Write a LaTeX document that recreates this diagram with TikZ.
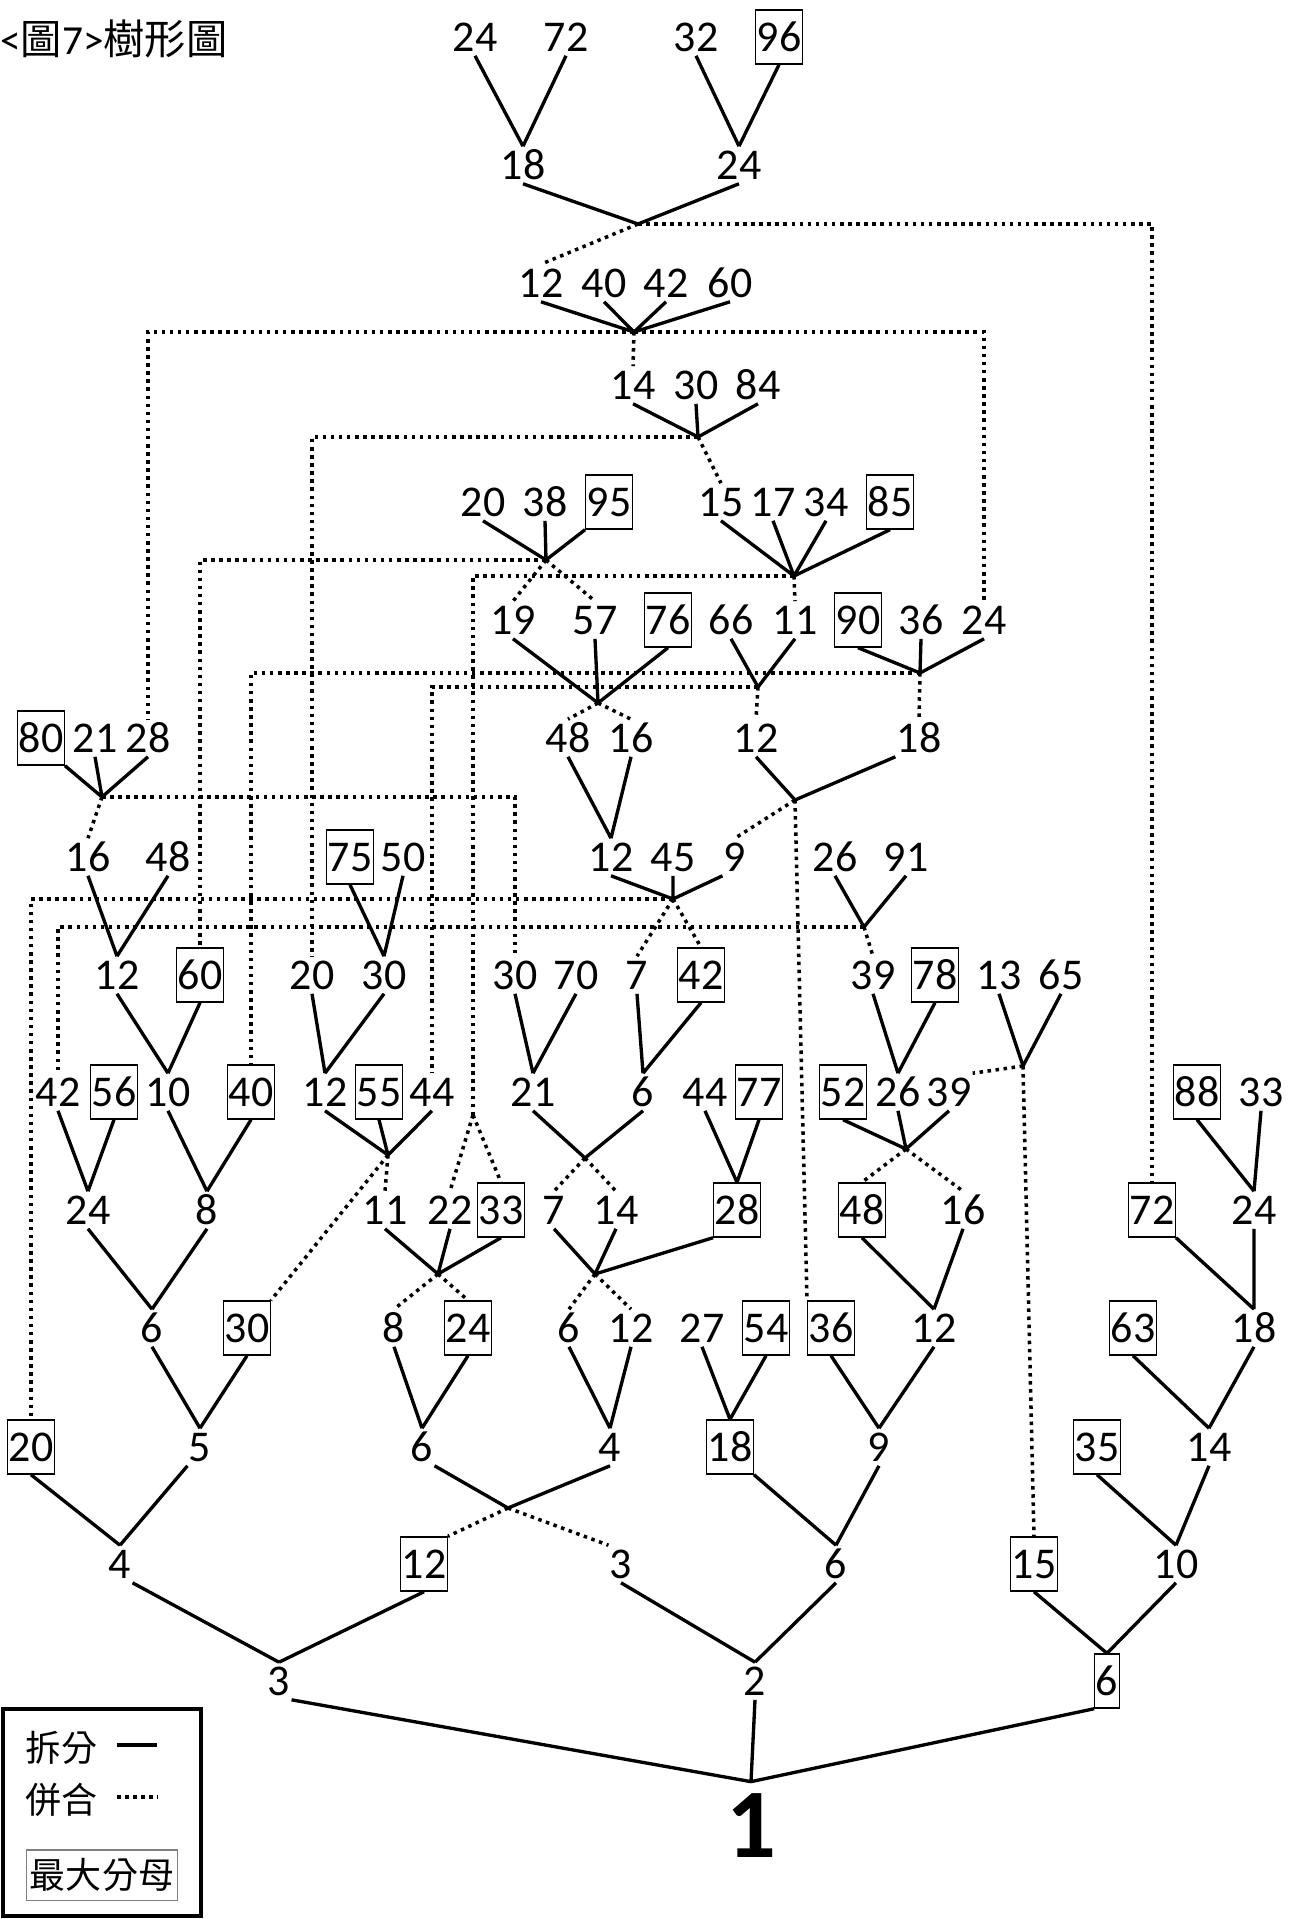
\documentclass[tikz,border=0pt]{standalone}
\usepackage{fontspec}
\usepackage{tikz}
\newfontfamily\numfont{Carlito}
\newfontfamily\cjkfont{Noto Sans CJK TC}

\begin{document}
\begin{tikzpicture}[x=0.02cm,y=-0.02cm,
  numtext/.style={font=\numfont\fontsize{25}{30}\selectfont,text height=16pt,text depth=0pt,inner xsep=0.6pt,inner ysep=2.5pt},
  maxden/.style={numtext,draw,line width=0.75pt,inner ysep=7.4pt},
  splitline/.style={line width=1.9pt},
  mergeline/.style={line width=2pt,dash pattern=on 2pt off 2.6pt},
  legtext/.style={font=\cjkfont\fontsize{20.5}{24}\selectfont,inner sep=0pt}]
\useasboundingbox (0,0) rectangle (1298,1919);
\node[anchor=west,inner sep=0pt,font=\fontsize{23.5}{28}\selectfont] (title) at (0,39) {{\numfont <}{\cjkfont 圖}{\numfont 7>}{\cjkfont 樹形圖}};

\node[numtext] (a1) at (475,37) {24};
\node[numtext] (a2) at (566,37) {72};
\node[numtext] (a3) at (696,37) {32};
\node[maxden] (a4) at (779,37) {96};
\node[numtext] (b1) at (523,165) {18};
\node[numtext] (b2) at (739,165) {24};
\coordinate (p1) at (638,224);

\node[numtext] (c1) at (541,283) {12};
\node[numtext] (c2) at (604,283) {40};
\node[numtext] (c3) at (666,283) {42};
\node[numtext] (c4) at (730,283) {60};
\coordinate (p2) at (634,332);

\node[numtext] (d1) at (633,385) {14};
\node[numtext] (d2) at (696,385) {30};
\node[numtext] (d3) at (758,385) {84};
\coordinate (p3) at (698,437);

\node[numtext] (e1) at (483,502) {20};
\node[numtext] (e2) at (545,502) {38};
\node[maxden] (e3) at (609,502) {95};
\node[numtext] (e4) at (721,502) {15};
\node[numtext] (e5) at (773,502) {17};
\node[numtext] (e6) at (826,502) {34};
\node[maxden] (e7) at (890,502) {85};
\coordinate (p4) at (546,560);
\coordinate (p5) at (794,576);

\node[numtext] (f1) at (513,620) {19};
\node[numtext] (f2) at (595,620) {57};
\node[maxden] (f3) at (668,620) {76};
\node[numtext] (f4) at (731,620) {66};
\node[numtext] (f5) at (795,620) {11};
\node[maxden] (f6) at (858,620) {90};
\node[numtext] (f7) at (921,620) {36};
\node[numtext] (f8) at (984,620) {24};
\coordinate (p6) at (598,703);
\coordinate (p7) at (758,687);
\coordinate (p8) at (920,673);

\node[maxden] (g1) at (41,738) {80};
\node[numtext] (g2) at (95,738) {21};
\node[numtext] (g3) at (148,738) {28};
\node[numtext] (g4) at (568,738) {48};
\node[numtext] (g5) at (631,738) {16};
\node[numtext] (g6) at (756,738) {12};
\node[numtext] (g7) at (919,738) {18};
\coordinate (p9) at (102,797);
\coordinate (p10) at (795,800);

\node[numtext] (h1) at (88,857) {16};
\node[numtext] (h2) at (168,857) {48};
\node[maxden] (h3) at (350,857) {75};
\node[numtext] (h4) at (403,857) {50};
\node[numtext] (h5) at (611,857) {12};
\node[numtext] (h6) at (673,857) {45};
\node[numtext] (h7) at (735,857) {9};
\node[numtext] (h8) at (835,857) {26};
\node[numtext] (h9) at (906,857) {91};
\coordinate (p11) at (673,899);
\coordinate (p12) at (864,927);

\node[numtext] (i1) at (117,975) {12};
\node[maxden] (i2) at (200,975) {60};
\node[numtext] (i3) at (312,975) {20};
\node[numtext] (i4) at (384,975) {30};
\node[numtext] (i5) at (515,975) {30};
\node[numtext] (i6) at (576,975) {70};
\node[numtext] (i7) at (637,975) {7};
\node[maxden] (i8) at (701,975) {42};
\node[numtext] (i9) at (873,975) {39};
\node[maxden] (i10) at (935,975) {78};
\node[numtext] (i11) at (999,975) {13};
\node[numtext] (i12) at (1061,975) {65};
\coordinate (p13) at (1023,1066);

\node[numtext] (j1) at (58,1092) {42};
\node[maxden] (j2) at (114,1092) {56};
\node[numtext] (j3) at (168,1092) {10};
\node[maxden] (j4) at (251,1092) {40};
\node[numtext] (j5) at (325,1092) {12};
\node[maxden] (j6) at (379,1092) {55};
\node[numtext] (j7) at (432,1092) {44};
\node[numtext] (j8) at (533,1092) {21};
\node[numtext] (j9) at (643,1092) {6};
\node[numtext] (j10) at (705,1092) {44};
\node[maxden] (j11) at (759,1092) {77};
\node[maxden] (j12) at (843,1092) {52};
\node[numtext] (j13) at (898,1092) {26};
\node[numtext] (j14) at (949,1092) {39};
\node[maxden] (j15) at (1197,1092) {88};
\node[numtext] (j16) at (1261,1092) {33};
\coordinate (p14) at (388,1155);
\coordinate (p15) at (585,1158);
\coordinate (p16) at (906,1149);
\coordinate (q1) at (473,1115);

\node[numtext] (k1) at (88,1210) {24};
\node[numtext] (k2) at (207,1210) {8};
\node[numtext] (k3) at (385,1210) {11};
\node[numtext] (k4) at (450,1210) {22};
\node[maxden] (k5) at (501,1210) {33};
\node[numtext] (k6) at (554,1210) {7};
\node[numtext] (k7) at (616,1210) {14};
\node[maxden] (k8) at (737,1210) {28};
\node[maxden] (k9) at (862,1210) {48};
\node[numtext] (k10) at (963,1210) {16};
\node[maxden] (k11) at (1152,1210) {72};
\node[numtext] (k12) at (1254,1210) {24};
\coordinate (p17) at (438,1274);
\coordinate (p18) at (595,1274);

\node[numtext] (l1) at (152,1328) {6};
\node[maxden] (l2) at (247,1328) {30};
\node[numtext] (l3) at (394,1328) {8};
\node[maxden] (l4) at (468,1328) {24};
\node[numtext] (l5) at (569,1328) {6};
\node[numtext] (l6) at (631,1328) {12};
\node[numtext] (l7) at (702,1328) {27};
\node[maxden] (l8) at (766,1328) {54};
\node[maxden] (l9) at (831,1328) {36};
\node[numtext] (l10) at (934,1328) {12};
\node[maxden] (l11) at (1133,1328) {63};
\node[numtext] (l12) at (1254,1328) {18};

\node[maxden] (m1) at (31,1447) {20};
\node[numtext] (m2) at (200,1447) {5};
\node[numtext] (m3) at (422,1447) {6};
\node[numtext] (m4) at (610,1447) {4};
\node[maxden] (m5) at (730,1447) {18};
\node[numtext] (m6) at (879,1447) {9};
\node[maxden] (m7) at (1097,1447) {35};
\node[numtext] (m8) at (1209,1447) {14};
\coordinate (p19) at (508,1508);

\node[numtext] (n1) at (120,1564) {4};
\node[maxden] (n2) at (424,1564) {12};
\node[numtext] (n3) at (621,1564) {3};
\node[numtext] (n4) at (836,1564) {6};
\node[maxden] (n5) at (1034,1564) {15};
\node[numtext] (n6) at (1176,1564) {10};

\node[numtext] (o1) at (279,1681) {3};
\node[numtext] (o2) at (755,1681) {2};
\node[maxden] (o3) at (1107,1681) {6};
\node[font=\numfont\bfseries\fontsize{56}{60}\selectfont,text height=35.5pt,text depth=0pt,inner sep=7.3pt] (root) at (751,1826) {1};

\draw[splitline] (a1.south) -- (b1.north) (a2.south) -- (b1.north);
\draw[splitline] (a3.south) -- (b2.north) (a4.south) -- (b2.north);
\draw[splitline] (b1.south) -- (p1) (b2.south) -- (p1);
\draw[mergeline] (p1) -- (c1.north);
\draw[mergeline] (p1) -| (k11.north);

\draw[splitline] (c1.south) -- (p2) (c2.south) -- (p2) (c3.south) -- (p2) (c4.south) -- (p2);
\draw[mergeline] (p2) -- (d1.north);
\draw[mergeline] (p2) -| (g3.north);
\draw[mergeline] (p2) -| (f8.north);

\draw[splitline] (d1.south) -- (p3) (d2.south) -- (p3) (d3.south) -- (p3);
\draw[mergeline] (p3) -- (e4.north);
\draw[mergeline] (p3) -| (i3.north);

\draw[splitline] (e1.south) -- (p4) (e2.south) -- (p4) (e3.south west) -- (p4);
\draw[mergeline] (p4) -- (f1.north);
\draw[mergeline] (p4) -- (f2.north);
\draw[mergeline] (p4) -| (i2.north);

\draw[splitline] (e4.south) -- (p5) (e5.south) -- (p5) (e6.south) -- (p5) (e7.south) -- (p5);
\draw[mergeline] (p5) -- (f5.north);
\draw[mergeline] (p5) -| (q1);
\draw[mergeline] (q1) -- (k4.north);
\draw[mergeline] (q1) -- (k5.north);

\draw[splitline] (f1.south) -- (p6) (f2.south) -- (p6) (f3.south) -- (p6);
\draw[mergeline] (p6) -- (g4.north);
\draw[mergeline] (p6) -- (g5.north);
\draw[splitline] (f4.south) -- (p7) (f5.south) -- (p7);
\draw[mergeline] (p7) -- (g6.north);
\draw[mergeline] (p7) -| (j7.north);
\draw[splitline] (f6.south) -- (p8) (f7.south) -- (p8) (f8.south) -- (p8);
\draw[mergeline] (p8) -- (g7.north);
\draw[mergeline] (p8) -| (j4.north);

\draw[splitline] (g1.south east) -- (p9) (g2.south) -- (p9) (g3.south) -- (p9);
\draw[mergeline] (p9) -- (h1.north);
\draw[mergeline] (p9) -| (i5.north);
\draw[splitline] (g4.south) -- (h5.north) (g5.south) -- (h5.north);
\draw[splitline] (g6.south) -- (p10) (g7.south west) -- (p10);
\draw[mergeline] (p10) -- (h7.north);
\draw[mergeline] (p10) -- (l9.north west);

\draw[splitline] (h1.south) -- (i1.north) (h2.south) -- (i1.north);
\draw[splitline] (h3.south) -- (i4.north) (h4.south) -- (i4.north);
\draw[splitline] (h5.south) -- (p11) (h6.south) -- (p11) (h7.south west) -- (p11);
\draw[mergeline] (p11) -- (i7.north);
\draw[mergeline] (p11) -- (i8.north);
\draw[mergeline] (p11) -| (m1.north);
\draw[splitline] (h8.south) -- (p12) (h9.south) -- (p12);
\draw[mergeline] (p12) -- (i9.north);
\draw[mergeline] (p12) -| (j1.north);

\draw[splitline] (i1.south) -- (j3.north) (i2.south) -- (j3.north);
\draw[splitline] (i3.south) -- (j5.north) (i4.south) -- (j5.north);
\draw[splitline] (i5.south) -- (j8.north) (i6.south) -- (j8.north);
\draw[splitline] (i7.south) -- (j9.north) (i8.south) -- (j9.north);
\draw[splitline] (i9.south) -- (j13.north) (i10.south) -- (j13.north);
\draw[splitline] (i11.south) -- (p13) (i12.south) -- (p13);
\draw[mergeline] (p13) -- (j14.north east);
\draw[mergeline] (p13) -- (n5.north);

\draw[splitline] (j1.south) -- (k1.north) (j2.south) -- (k1.north);
\draw[splitline] (j3.south) -- (k2.north) (j4.south) -- (k2.north);
\draw[splitline] (j5.south) -- (p14) (j6.south) -- (p14) (j7.south) -- (p14);
\draw[mergeline] (p14) -- (k3.north);
\draw[mergeline] (p14) -- (l2.north east);
\draw[splitline] (j8.south) -- (p15) (j9.south) -- (p15);
\draw[mergeline] (p15) -- (k6.north);
\draw[mergeline] (p15) -- (k7.north);
\draw[splitline] (j10.south) -- (k8.north) (j11.south) -- (k8.north);
\draw[splitline] (j12.south) -- (p16) (j13.south) -- (p16) (j14.south) -- (p16);
\draw[mergeline] (p16) -- (k9.north);
\draw[mergeline] (p16) -- (k10.north);
\draw[splitline] (j15.south) -- (k12.north) (j16.south) -- (k12.north);

\draw[splitline] (k1.south) -- (l1.north) (k2.south) -- (l1.north);
\draw[splitline] (k3.south) -- (p17) (k4.south) -- (p17) (k5.south) -- (p17);
\draw[mergeline] (p17) -- (l3.north);
\draw[mergeline] (p17) -- (l4.north);
\draw[splitline] (k6.south) -- (p18) (k7.south) -- (p18) (k8.south west) -- (p18);
\draw[mergeline] (p18) -- (l5.north);
\draw[mergeline] (p18) -- (l6.north);
\draw[splitline] (k9.south) -- (l10.north) (k10.south) -- (l10.north);
\draw[splitline] (k11.south east) -- (l12.north) (k12.south) -- (l12.north);

\draw[splitline] (l1.south) -- (m2.north) (l2.south) -- (m2.north);
\draw[splitline] (l3.south) -- (m3.north) (l4.south) -- (m3.north);
\draw[splitline] (l5.south) -- (m4.north) (l6.south) -- (m4.north);
\draw[splitline] (l7.south) -- (m5.north) (l8.south) -- (m5.north);
\draw[splitline] (l9.south) -- (m6.north) (l10.south) -- (m6.north);
\draw[splitline] (l11.south) -- (m8.north) (l12.south) -- (m8.north);

\draw[splitline] (m1.south) -- (n1.north) (m2.south west) -- (n1.north);
\draw[splitline] (m3.south east) -- (p19) (m4.south) -- (p19);
\draw[mergeline] (p19) -- (n2.north east);
\draw[mergeline] (p19) -- (n3.north west);
\draw[splitline] (m5.south east) -- (n4.north) (m6.south) -- (n4.north);
\draw[splitline] (m7.south) -- (n6.north) (m8.south) -- (n6.north);

\draw[splitline] (n1.south east) -- (o1.north) (n2.south) -- (o1.north);
\draw[splitline] (n3.south) -- (o2.north) (n4.south) -- (o2.north);
\draw[splitline] (n5.south) -- (o3.north) (n6.south) -- (o3.north);
\draw[splitline] (o1.south east) -- (root.north) (o2.south) -- (root.north) (o3.south west) -- (root.north);

\draw[line width=1.8pt] (3,1709) rectangle (201,1916);
\node[legtext] (lg1) at (62,1748) {拆分};
\node[legtext] (lg2) at (62,1800) {併合};
\coordinate (ls1) at (117,1745);
\coordinate (le1) at (157,1745);
\coordinate (ls2) at (117,1797);
\coordinate (le2) at (158,1797);
\draw[splitline] (ls1) -- (le1);
\draw[mergeline] (ls2) -- (le2);
\node[legtext,draw=gray,line width=0.6pt,text height=18pt,text depth=2.5pt,inner xsep=2pt,inner ysep=4pt] (lg3) at (102,1875) {最大分母};
\end{tikzpicture}
\end{document}
